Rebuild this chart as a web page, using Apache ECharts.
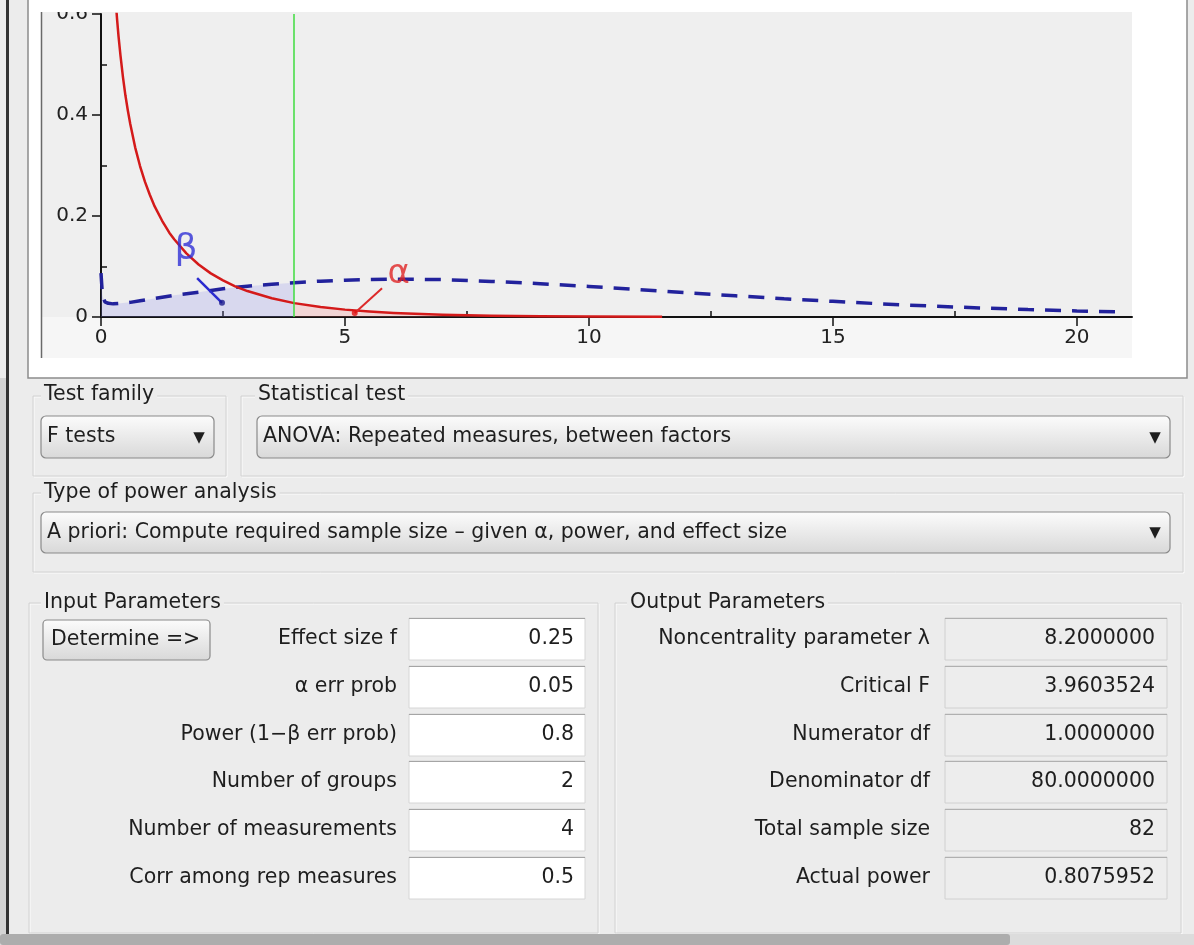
<!DOCTYPE html>
<html>
<head>
<meta charset="utf-8">
<script src="https://cdn.jsdelivr.net/npm/echarts@6/dist/echarts.min.js"></script>
<style>
html,body{margin:0;padding:0;background:#ececec;overflow:hidden;}
#chart{position:absolute;left:0;top:0;width:1194px;height:945px;}
</style>
</head>
<body>
<div id="chart"></div>
<script>
// ---------- data ----------
const xTickValues = [0, 5, 10, 15, 20];
const xMinorValues = [2.5, 7.5, 12.5, 17.5];
const yTickValues = [0, 0.2, 0.4, 0.6];
const yMinorValues = [0.1, 0.3, 0.5];
const xMax = 21.13;
const yMax = 0.6;
const critF = 3.96;

// central F distribution (H0), red solid
const redX = [0.30, 0.33, 0.36, 0.40, 0.45, 0.50, 0.55, 0.60, 0.70, 0.80, 0.90, 1.00, 1.10, 1.25, 1.40, 1.50, 1.75, 2.00, 2.25, 2.50, 2.75, 3.00, 3.50, 3.96, 4.50, 5.00, 5.50, 6.00, 7.00, 8.00, 9.00, 10.00, 11.50];
const redY = [0.627, 0.589, 0.555, 0.517, 0.475, 0.439, 0.409, 0.382, 0.336, 0.299, 0.268, 0.242, 0.219, 0.191, 0.167, 0.154, 0.126, 0.104, 0.0864, 0.0725, 0.0608, 0.0514, 0.0371, 0.0275, 0.0197, 0.0146, 0.0109, 0.0081, 0.0046, 0.0026, 0.0015, 0.0009, 0.0004];

// noncentral F distribution (H1), blue dashed
const blueX = [0.00, 0.03, 0.08, 0.15, 0.25, 0.40, 0.60, 0.80, 1.00, 1.50, 2.00, 2.50, 3.00, 3.50, 3.96, 4.50, 5.00, 5.50, 6.00, 6.50, 7.00, 8.00, 9.00, 10.00, 11.00, 12.00, 13.00, 14.00, 15.00, 16.00, 17.00, 18.00, 19.00, 20.00, 21.00];
const blueY = [0.087, 0.042, 0.030, 0.027, 0.026, 0.027, 0.029, 0.032, 0.035, 0.043, 0.049, 0.056, 0.061, 0.065, 0.068, 0.071, 0.073, 0.074, 0.075, 0.0745, 0.074, 0.0705, 0.066, 0.0605, 0.0545, 0.048, 0.042, 0.036, 0.031, 0.026, 0.0217, 0.018, 0.0149, 0.0121, 0.0098];

// annotations
const betaLabelPos = [1.74, 0.133];
const betaPointer = [[1.97, 0.077], [2.48, 0.028]];
const alphaLabelPos = [6.1, 0.084];
const alphaPointer = [[5.76, 0.057], [5.2, 0.008]];

// form texts
const testFamilyTitle = 'Test family';
const testFamily = 'F tests';
const statTestTitle = 'Statistical test';
const statTest = 'ANOVA: Repeated measures, between factors';
const powerTitle = 'Type of power analysis';
const powerType = 'A priori: Compute required sample size \u2013 given \u03b1, power, and effect size';
const inputTitle = 'Input Parameters';
const determineLabel = 'Determine =>';
const inputLabels = ['Effect size f', '\u03b1 err prob', 'Power (1\u2212\u03b2 err prob)', 'Number of groups', 'Number of measurements', 'Corr among rep measures'];
const inputValues = ['0.25', '0.05', '0.8', '2', '4', '0.5'];
const outputTitle = 'Output Parameters';
const outputLabels = ['Noncentrality parameter \u03bb', 'Critical F', 'Numerator df', 'Denominator df', 'Total sample size', 'Actual power'];
const outputValues = ['8.2000000', '3.9603524', '1.0000000', '80.0000000', '82', '0.8075952'];

// ---------- build ----------
const FONT = '"DejaVu Sans", sans-serif';
const UIFS = 20.5;
const fnt = s => s + 'px ' + FONT;
const pair = (xs, ys) => xs.map((x, i) => [x, ys[i]]);
const critIdxBlue = blueX.indexOf(critF);
const critIdxRed = redX.indexOf(critF);

function T(x, y, s, align, extra) {
  const st = Object.assign({
    text: s, font: fnt(UIFS), fill: '#1e1e1e',
    textAlign: align || 'left', textVerticalAlign: 'middle',
    align: align || 'left', verticalAlign: 'middle'
  }, extra || {});
  return { type: 'text', x: x, y: y, silent: true, style: st };
}
function R(x, y, w, h, style, r, z) {
  const e = { type: 'rect', silent: true, shape: { x: x, y: y, width: w, height: h, r: r || 0 }, style: style };
  if (z != null) e.z = z;
  return e;
}
const grad = { type: 'linear', x: 0, y: 0, x2: 0, y2: 1, colorStops: [{ offset: 0, color: '#fcfcfc' }, { offset: 1, color: '#d8d8d8' }] };
function etched(x, y, w, h) {
  return [
    R(x + 1, y + 1, w, h, { fill: 'none', stroke: '#fbfbfb', lineWidth: 1 }),
    R(x, y, w, h, { fill: 'none', stroke: '#d2d2d2', lineWidth: 1 })
  ];
}
function combo(x, y, w, h, s) {
  return [
    R(x, y, w, h, { fill: grad, stroke: '#8a8a8a', lineWidth: 1.2 }, 5),
    T(x + 6, y + h / 2, s),
    T(x + w - 15, y + h / 2 + 1, '\u25bc', 'center', { font: fnt(15) })
  ];
}

const ui = [];
// left dark edge
ui.push(R(0, 378, 7, 567, { fill: '#d4d4d4' }));
ui.push(R(6, 0, 3, 945, { fill: '#333333' }));
// chart panel
ui.push(R(28, -2, 1159, 380, { fill: '#ffffff', stroke: '#8c8c8c', lineWidth: 1.5 }));
ui.push(R(41, 12, 1091, 305, { fill: '#efefef' }));
ui.push(R(41, 317, 1091, 41, { fill: '#f6f6f6' }));
ui.push({ type: 'line', silent: true, shape: { x1: 41.5, y1: 12, x2: 41.5, y2: 358 }, style: { stroke: '#6a6a6a', lineWidth: 1.5 } });
// white strip that clips the top of the plot (covers the upper half of the top tick label)
ui.push(R(29, -2, 1157, 14, { fill: '#ffffff' }, null, 100));

// group boxes
ui.push(...etched(33, 396, 193, 80));
ui.push(...etched(241, 396, 942, 80));
ui.push(...etched(33, 493, 1150, 79));
ui.push(...etched(29, 603, 569, 330));
ui.push(...etched(615, 603, 566, 330));

const titleStyle = { backgroundColor: '#ececec', padding: [0, 3] };
ui.push(T(41, 395, testFamilyTitle, 'left', titleStyle));
ui.push(T(255, 395, statTestTitle, 'left', titleStyle));
ui.push(T(41, 493, powerTitle, 'left', titleStyle));
ui.push(T(41, 603, inputTitle, 'left', titleStyle));
ui.push(T(627, 603, outputTitle, 'left', titleStyle));

ui.push(...combo(41, 416, 173, 42, testFamily));
ui.push(...combo(257, 416, 913, 42, statTest));
ui.push(...combo(41, 512, 1129, 41, powerType));

// determine button
ui.push(R(43, 620, 167, 40, { fill: grad, stroke: '#8a8a8a', lineWidth: 1.2 }, 4));
ui.push(T(51, 640, determineLabel));

const rowTop = i => Math.round(618 + 47.8 * i);
inputLabels.forEach((lab, i) => {
  const y = rowTop(i);
  ui.push(R(409, y, 176, 42, { fill: '#ffffff', stroke: '#d6d6d6', lineWidth: 1 }));
  ui.push({ type: 'line', silent: true, shape: { x1: 409, y1: y + 0.5, x2: 585, y2: y + 0.5 }, style: { stroke: '#a5a5a5', lineWidth: 1.2 } });
  ui.push(T(397, y + 21, lab, 'right'));
  ui.push(T(574, y + 21, inputValues[i], 'right'));
});
outputLabels.forEach((lab, i) => {
  const y = rowTop(i);
  ui.push(R(945, y, 222, 42, { fill: '#ededed', stroke: '#d0d0d0', lineWidth: 1 }));
  ui.push({ type: 'line', silent: true, shape: { x1: 945, y1: y + 0.5, x2: 1167, y2: y + 0.5 }, style: { stroke: '#b0b0b0', lineWidth: 1.2 } });
  ui.push(T(930, y + 21, lab, 'right'));
  ui.push(T(1155, y + 21, outputValues[i], 'right'));
});
// bottom scroll bar
ui.push(R(0, 934, 1194, 11, { fill: '#dcdcdc' }));
ui.push(R(0, 934, 1010, 11, { fill: '#adadad' }, 3));

const axisFont = { fontSize: 20, fontFamily: FONT, color: '#222' };

const option = {
  animation: false,
  backgroundColor: '#ececec',
  graphic: { elements: ui },
  grid: { left: 101, right: 1194 - 1132, top: 14, bottom: 945 - 317, containLabel: false },
  xAxis: [
    {
      type: 'value', min: 0, max: xMax, interval: 5,
      axisLine: { show: true, onZero: false, lineStyle: { color: '#111', width: 2 } },
      axisTick: { show: true, length: 9, customValues: xTickValues, lineStyle: { color: '#111', width: 1.5 } },
      axisLabel: Object.assign({ customValues: xTickValues, margin: 11 }, axisFont),
      splitLine: { show: false }
    },
    {
      type: 'value', min: 0, max: xMax, interval: 2.5,
      axisLine: { show: false },
      axisTick: { show: true, length: 6, customValues: xMinorValues, lineStyle: { color: '#111', width: 1.5 } },
      axisLabel: { show: false },
      splitLine: { show: false }
    }
  ],
  yAxis: [
    {
      type: 'value', min: 0, max: yMax, interval: 0.2,
      axisLine: { show: true, onZero: false, lineStyle: { color: '#111', width: 2 } },
      axisTick: { show: true, length: 9, customValues: yTickValues, lineStyle: { color: '#111', width: 1.5 } },
      axisLabel: Object.assign({ customValues: yTickValues, margin: 13 }, axisFont),
      splitLine: { show: false }
    },
    {
      type: 'value', min: 0, max: yMax, interval: 0.1,
      axisLine: { show: false },
      axisTick: { show: true, length: 6, customValues: yMinorValues, lineStyle: { color: '#111', width: 1.5 } },
      axisLabel: { show: false },
      splitLine: { show: false }
    }
  ],
  series: [
    { // beta area
      type: 'line', data: pair(blueX.slice(0, critIdxBlue + 1), blueY.slice(0, critIdxBlue + 1)),
      symbol: 'none', smooth: false, lineStyle: { width: 0 },
      areaStyle: { color: 'rgba(140,140,235,0.32)' }, z: 1, silent: true
    },
    { // alpha area
      type: 'line', data: pair(redX.slice(critIdxRed), redY.slice(critIdxRed)),
      symbol: 'none', smooth: false, lineStyle: { width: 0 },
      areaStyle: { color: 'rgba(255,120,120,0.3)' }, z: 1, silent: true
    },
    { // blue dashed H1
      type: 'line', data: pair(blueX, blueY), symbol: 'none', smooth: false,
      lineStyle: { color: '#22229c', width: 3.5, type: [16, 11], cap: 'butt' }, z: 3, silent: true
    },
    { // red H0
      type: 'line', data: pair(redX, redY), symbol: 'none', smooth: false,
      lineStyle: { color: '#d41a1a', width: 2.5, join: 'round' }, z: 4, silent: true,
      markLine: {
        symbol: 'none', silent: true, label: { show: false },
        lineStyle: { color: '#3fdc3f', width: 1.5, type: 'solid' },
        data: [{ xAxis: critF }]
      }
    },
    { // beta pointer
      type: 'line', data: betaPointer, symbol: 'none', lineStyle: { color: '#2b2bcf', width: 2.5 }, z: 5, silent: true
    },
    { // alpha pointer
      type: 'line', data: alphaPointer, symbol: 'none', lineStyle: { color: '#dd2a2a', width: 2 }, z: 5, silent: true
    },
    {
      type: 'scatter', data: [betaPointer[1]], symbolSize: 6, itemStyle: { color: '#1c1c8c' }, z: 6, silent: true
    },
    {
      type: 'scatter', data: [alphaPointer[1]], symbolSize: 6, itemStyle: { color: '#e01010' }, z: 6, silent: true
    },
    {
      type: 'scatter', data: [betaLabelPos], symbolSize: 1, itemStyle: { color: 'rgba(0,0,0,0)' }, z: 6, silent: true,
      label: { show: true, position: 'inside', formatter: '\u03b2', fontSize: 36, fontFamily: FONT, color: '#2f2fd6' }
    },
    {
      type: 'scatter', data: [alphaLabelPos], symbolSize: 1, itemStyle: { color: 'rgba(0,0,0,0)' }, z: 6, silent: true,
      label: { show: true, position: 'inside', formatter: '\u03b1', fontSize: 34, fontFamily: FONT, color: '#e02424' }
    }
  ]
};

const chart = echarts.init(document.getElementById('chart'), null, { renderer: 'canvas', width: 1194, height: 945 });
chart.setOption(option);
</script>
</body>
</html>
